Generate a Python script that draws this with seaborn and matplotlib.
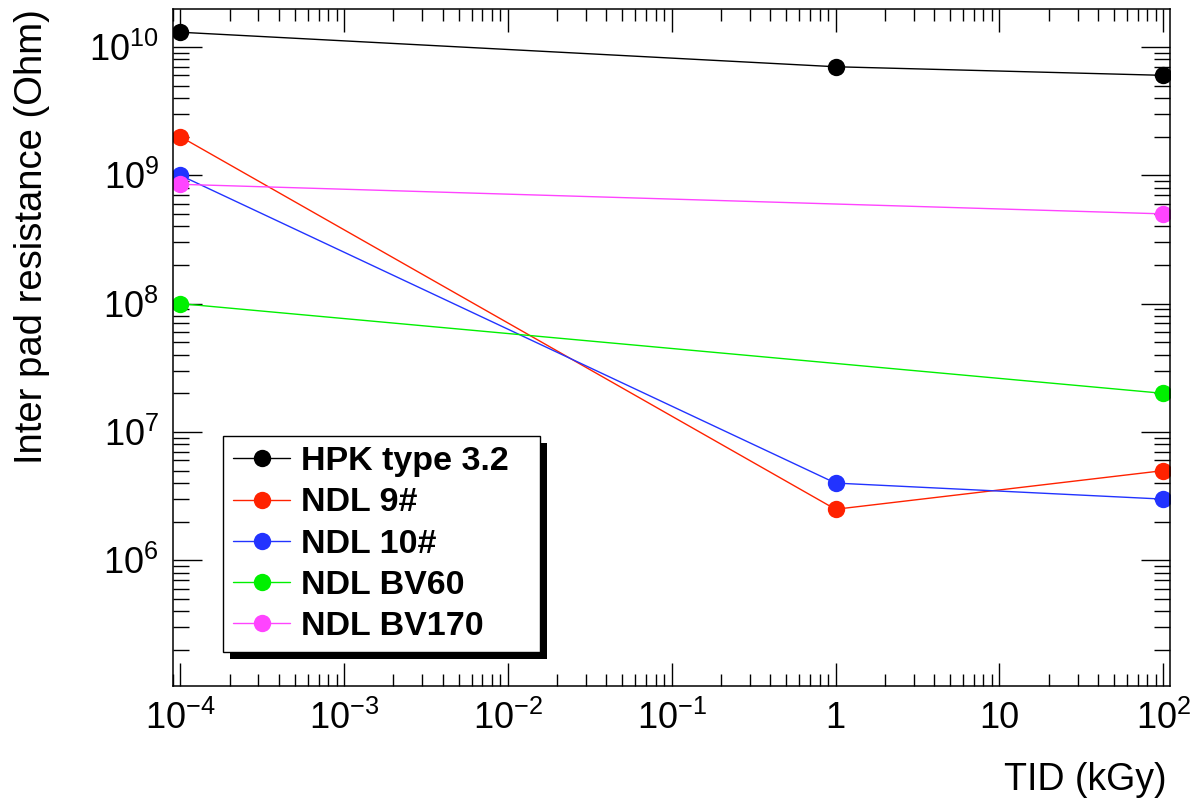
import numpy as np
import pandas as pd
import matplotlib
matplotlib.use("Agg")
import matplotlib.pyplot as plt
import matplotlib.ticker as mticker
from matplotlib.patches import Rectangle
import seaborn as sns

# Inter-pad resistance versus total ionising dose
samples = ["HPK type 3.2", "NDL 9#", "NDL 10#", "NDL BV60", "NDL BV170"]
colors = ["#000000", "#ff2200", "#2233ff", "#00f000", "#ff44ff"]

hpk_tid = [1e-4, 1.0, 100.0]
hpk_res = [1.3e10, 7.0e9, 6.0e9]
ndl9_tid = [1e-4, 1.0, 100.0]
ndl9_res = [2.0e9, 2.5e6, 5.0e6]
ndl10_tid = [1e-4, 1.0, 100.0]
ndl10_res = [1.0e9, 4.0e6, 3.0e6]
bv60_tid = [1e-4, 100.0]
bv60_res = [1.0e8, 2.0e7]
bv170_tid = [1e-4, 100.0]
bv170_res = [8.5e8, 5.0e8]

x_ticks = [1e-4, 1e-3, 1e-2, 1e-1, 1.0, 10.0, 100.0]
x_tick_labels = [r"$10^{-4}$", r"$10^{-3}$", r"$10^{-2}$", r"$10^{-1}$", "1", "10", r"$10^{2}$"]
y_ticks = [1e6, 1e7, 1e8, 1e9, 1e10]
y_tick_labels = [r"$10^{6}$", r"$10^{7}$", r"$10^{8}$", r"$10^{9}$", r"$10^{10}$"]

series = [
    (samples[0], hpk_tid, hpk_res),
    (samples[1], ndl9_tid, ndl9_res),
    (samples[2], ndl10_tid, ndl10_res),
    (samples[3], bv60_tid, bv60_res),
    (samples[4], bv170_tid, bv170_res),
]
df = pd.concat(
    [pd.DataFrame({"sample": name, "tid": t, "res": r}) for name, t, r in series],
    ignore_index=True,
)

sns.set_style("ticks")
plt.rcParams["font.family"] = ["Liberation Sans", "DejaVu Sans"]
plt.rcParams["mathtext.fontset"] = "custom"
plt.rcParams["mathtext.rm"] = "Liberation Sans"
plt.rcParams["mathtext.it"] = "Liberation Sans:italic"
plt.rcParams["mathtext.bf"] = "Liberation Sans:bold"
plt.rcParams["mathtext.default"] = "regular"
plt.rcParams["text.color"] = "black"
plt.rcParams["axes.labelcolor"] = "black"
plt.rcParams["xtick.color"] = "black"
plt.rcParams["ytick.color"] = "black"

fig = plt.figure(figsize=(11.92, 8.05), dpi=100)
ax = fig.add_axes([0.1449, 0.1478, 0.8366, 0.8406])
ax.set_xscale("log")
ax.set_yscale("log")

sns.lineplot(
    data=df, x="tid", y="res", hue="sample", hue_order=samples,
    palette=dict(zip(samples, colors)), estimator=None, sort=True,
    marker="o", markersize=12.5, markeredgewidth=0, linewidth=1.0,
    legend=False, ax=ax,
)

ax.set_xlim(9.0e-5, 110)
ax.set_ylim(1.05e5, 1.96e10)

ax.xaxis.set_major_locator(mticker.FixedLocator(x_ticks))
ax.xaxis.set_major_formatter(mticker.FixedFormatter(x_tick_labels))
ax.xaxis.set_minor_locator(mticker.LogLocator(base=10, subs=np.arange(2, 10), numticks=20))
ax.xaxis.set_minor_formatter(mticker.NullFormatter())
ax.yaxis.set_major_locator(mticker.FixedLocator(y_ticks))
ax.yaxis.set_major_formatter(mticker.FixedFormatter(y_tick_labels))
ax.yaxis.set_minor_locator(mticker.LogLocator(base=10, subs=np.arange(2, 10), numticks=20))
ax.yaxis.set_minor_formatter(mticker.NullFormatter())

for side in ["left", "right", "top", "bottom"]:
    ax.spines[side].set_visible(True)
    ax.spines[side].set_color("black")
    ax.spines[side].set_linewidth(1.1)

ax.tick_params(axis="both", which="both", direction="in", top=True, right=True,
               colors="black", labelcolor="black", width=1.0, labelsize=26)
ax.tick_params(axis="x", which="major", length=16.5, pad=11)
ax.tick_params(axis="x", which="minor", length=8.5)
ax.tick_params(axis="y", which="major", length=21, pad=10)
ax.tick_params(axis="y", which="minor", length=11.5)

ax.set_xlabel("TID (kGy)", fontsize=27, loc="right", color="black")
ax.set_ylabel("Inter pad resistance (Ohm)", fontsize=27.5, loc="top", color="black")
ax.xaxis.set_label_coords(0.997, -0.112)
ax.yaxis.set_label_coords(-0.123, 1.0)
ax.grid(False)

handles = ax.get_lines()[:len(samples)]
leg = ax.legend(
    handles, samples, loc="upper left",
    bbox_to_anchor=(0.0504, 0.0502, 0.3179, 0.3192), mode="expand",
    prop={"weight": "bold", "size": 24.5}, frameon=True, fancybox=False,
    edgecolor="black", framealpha=1.0, borderpad=0.3, labelspacing=0.3,
    handlelength=1.68, handletextpad=0.3, borderaxespad=0,
    labelcolor="black",
)
leg.get_frame().set_linewidth(1.0)
leg.set_zorder(5)

# solid drop shadow behind the legend box
fig.canvas.draw()
bb = leg.get_window_extent().transformed(ax.transAxes.inverted())
dx = 7 / (ax.bbox.width)
dy = 7 / (ax.bbox.height)
ax.add_patch(Rectangle((bb.x0 + dx, bb.y0 - dy), bb.width, bb.height,
                       transform=ax.transAxes, facecolor="black",
                       edgecolor="none", zorder=4.9, clip_on=False))

fig.savefig("out.png", dpi=100)
